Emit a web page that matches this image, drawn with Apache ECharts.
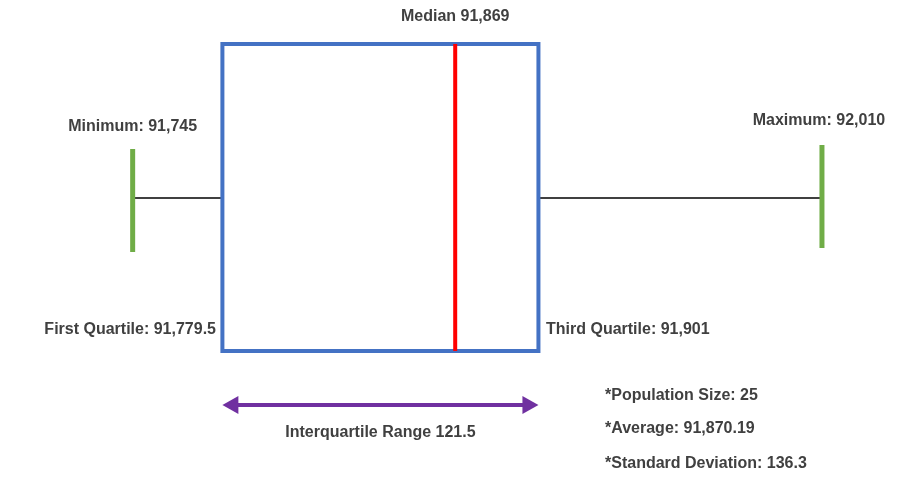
<!DOCTYPE html>
<html>
<head>
<meta charset="UTF-8">
<script src="https://cdn.jsdelivr.net/npm/echarts@6/dist/echarts.min.js"></script>
</head>
<body style="margin:0">
<div id="box" style="width:900px;height:483px;"></div>
<script>
// five number summary
var summary = [91745, 91779.5, 91869, 91901, 92010];
var summaryNames = ['Minimum', 'First Quartile', 'Median', 'Third Quartile', 'Maximum'];
var iqr = 121.5;
var stats = ['*Population Size: 25', '*Average: 91,870.19', '*Standard Deviation: 136.3'];

var chart = echarts.init(document.getElementById('box'));
var txt = {fontFamily: 'Liberation Sans, Arial', fontWeight: 'bold', fontSize: 16, fill: '#404040'};
function fmt(v) { return v.toLocaleString('en-US', {maximumFractionDigits: 1}); }
function label(s, x, y, align) {
  return {type: 'text', style: Object.assign({text: s, x: x, y: y, align: align, verticalAlign: 'middle'}, txt)};
}

chart.setOption({
  animation: false,
  grid: {left: 0, right: 0, top: 0, bottom: 0},
  xAxis: {type: 'value', min: 91694, max: 92040, show: false},
  yAxis: {type: 'value', min: 0, max: 1, show: false},
  series: [{
    type: 'custom',
    data: [summary],
    renderItem: function (params, api) {
      var x = [0, 1, 2, 3, 4].map(function (i) { return api.coord([api.value(i), 0])[0]; });
      var top = 44, bot = 351, mid = 198;
      var ch = [];
      ch.push({type: 'line', shape: {x1: x[0], y1: mid, x2: x[1], y2: mid}, style: {stroke: '#404040', lineWidth: 2}});
      ch.push({type: 'line', shape: {x1: x[3], y1: mid, x2: x[4], y2: mid}, style: {stroke: '#404040', lineWidth: 2}});
      ch.push({type: 'line', shape: {x1: x[0], y1: 149, x2: x[0], y2: 252}, style: {stroke: '#70AD47', lineWidth: 5}});
      ch.push({type: 'line', shape: {x1: x[4], y1: 145, x2: x[4], y2: 248}, style: {stroke: '#70AD47', lineWidth: 5}});
      ch.push({type: 'rect', shape: {x: x[1], y: top, width: x[3] - x[1], height: bot - top}, style: {fill: '#fff', stroke: '#4472C4', lineWidth: 4}});
      ch.push({type: 'line', shape: {x1: x[2], y1: top, x2: x[2], y2: bot}, style: {stroke: '#FF0000', lineWidth: 4}});
      // IQR arrow
      var ay = 405;
      ch.push({type: 'line', shape: {x1: x[1] + 10, y1: ay, x2: x[3] - 10, y2: ay}, style: {stroke: '#7030A0', lineWidth: 4}});
      ch.push({type: 'polygon', shape: {points: [[x[1], ay], [x[1] + 16, ay - 9], [x[1] + 16, ay + 9]]}, style: {fill: '#7030A0'}});
      ch.push({type: 'polygon', shape: {points: [[x[3], ay], [x[3] - 16, ay - 9], [x[3] - 16, ay + 9]]}, style: {fill: '#7030A0'}});
      // labels
      ch.push(label(summaryNames[2] + ' ' + fmt(api.value(2)), x[2], 17, 'center'));
      ch.push(label(summaryNames[0] + ': ' + fmt(api.value(0)), x[0], 127, 'center'));
      ch.push(label(summaryNames[4] + ': ' + fmt(api.value(4)), x[4] - 3, 121, 'center'));
      ch.push(label(summaryNames[1] + ': ' + fmt(api.value(1)), 216, 330, 'right'));
      ch.push(label(summaryNames[3] + ': ' + fmt(api.value(3)), 546, 330, 'left'));
      ch.push(label('Interquartile Range ' + iqr, (x[1] + x[3]) / 2, 433, 'center'));
      stats.forEach(function (s, i) { ch.push(label(s, 605, [396, 429, 464][i], 'left')); });
      return {type: 'group', children: ch};
    }
  }]
});
</script>
</body>
</html>
